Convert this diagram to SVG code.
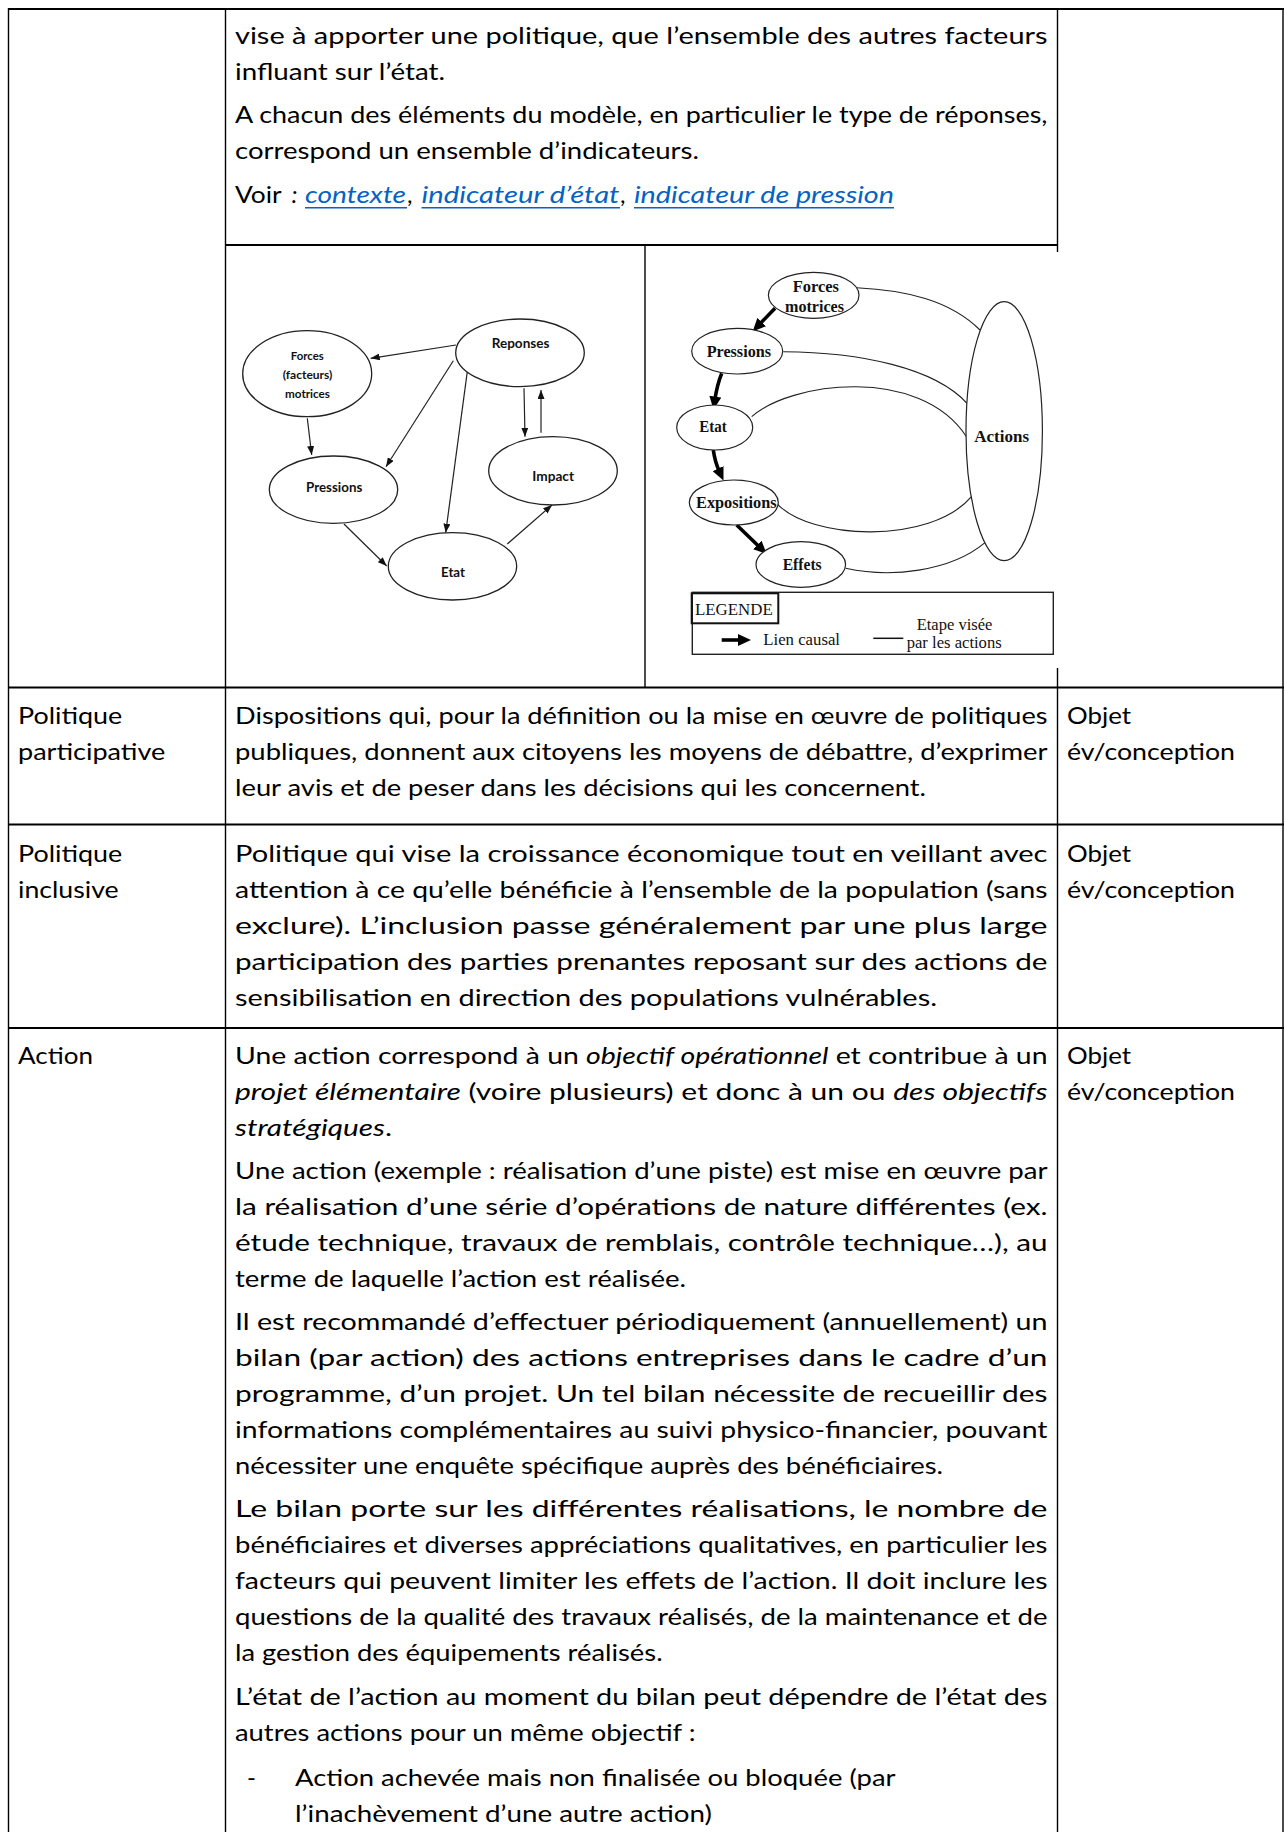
<svg xmlns="http://www.w3.org/2000/svg" width="1285" height="1832" viewBox="0 0 1285 1832">
<defs>
<style>
.t{font-family:Lato,"Open Sans",sans-serif;font-size:24px;fill:#000}
.i{font-style:italic}
.lnk{fill:#0563C1;font-style:italic}
.ul{stroke:#0563C1;stroke-width:1.6}
.h{stroke:#000;stroke-width:2}
.v{stroke:#000;stroke-width:1.4}
.n1{fill:#fff;stroke:#222;stroke-width:1.3}
.l1{font-family:Lato,"Open Sans",sans-serif;font-weight:bold;fill:#111}
.e1{fill:none;stroke:#222;stroke-width:1.2;marker-end:url(#ah1)}
.n2{fill:#fff;stroke:#222;stroke-width:1.2}
.l2{font-family:"Liberation Serif","Times New Roman",serif;font-weight:bold;font-size:16px;fill:#111}
.lg{font-family:"Liberation Serif","Times New Roman",serif;font-size:16px;fill:#111}
.c2{fill:none;stroke:#222;stroke-width:1.1}
.a2{fill:none;stroke:#000;stroke-width:3.6;marker-end:url(#ah2)}
</style>
<marker id="ah1" markerUnits="userSpaceOnUse" markerWidth="9" markerHeight="7" refX="9" refY="3.5" orient="auto"><path d="M0,0 L9,3.5 L0,7 z" fill="#111"/></marker>
<marker id="ah2" markerUnits="userSpaceOnUse" markerWidth="13" markerHeight="12" refX="3" refY="6" orient="auto"><path d="M0,0 L13,6 L0,12 z" fill="#000"/></marker>
</defs>
<rect width="1285" height="1832" fill="#fff"/>

<g id="table-grid">
<line class="h" x1="8" y1="9" x2="1284" y2="9"/>
<line class="h" x1="225.5" y1="245" x2="1057.5" y2="245"/>
<line class="h" x1="8" y1="687.5" x2="1284" y2="687.5"/>
<line class="h" x1="8" y1="824.5" x2="1284" y2="824.5"/>
<line class="h" x1="8" y1="1028" x2="1284" y2="1028"/>
<line class="v" x1="8.5" y1="8" x2="8.5" y2="1832"/>
<line class="v" x1="225.5" y1="8" x2="225.5" y2="1832"/>
<line class="v" x1="645" y1="245" x2="645" y2="687.5"/>
<line class="v" x1="1057.5" y1="8" x2="1057.5" y2="252"/>
<line class="v" x1="1057.5" y1="668" x2="1057.5" y2="1832"/>
<line class="v" x1="1283" y1="8" x2="1283" y2="1832"/>
</g>

<g id="row-continuation">
<text class="t" x="235" y="44" textLength="812.5" lengthAdjust="spacingAndGlyphs">vise à apporter une politique, que l’ensemble des autres facteurs</text>
<text class="t" x="235" y="80" textLength="210" lengthAdjust="spacingAndGlyphs">influant sur l’état.</text>
<text class="t" x="235" y="123.3" textLength="812.5" lengthAdjust="spacingAndGlyphs">A chacun des éléments du modèle, en particulier le type de réponses,</text>
<text class="t" x="235" y="159.3" textLength="464" lengthAdjust="spacingAndGlyphs">correspond un ensemble d’indicateurs.</text>
<text class="t" x="235" y="202.7" textLength="46.7" lengthAdjust="spacingAndGlyphs">Voir</text>
<text class="t i" x="291.5" y="202.7">:</text>
<text class="t lnk" x="305" y="202.7" textLength="101" lengthAdjust="spacingAndGlyphs">contexte</text>
<text class="t" x="407" y="202.7">,</text>
<text class="t lnk" x="421.5" y="202.7" textLength="198" lengthAdjust="spacingAndGlyphs">indicateur d’état</text>
<text class="t" x="620" y="202.7">,</text>
<text class="t lnk" x="634" y="202.7" textLength="260" lengthAdjust="spacingAndGlyphs">indicateur de pression</text>
<line class="ul" x1="305" y1="207.8" x2="407" y2="207.8"/>
<line class="ul" x1="421.5" y1="207.8" x2="620" y2="207.8"/>
<line class="ul" x1="634" y1="207.8" x2="894" y2="207.8"/>
</g>

<g id="diagram-dpsir">
<g id="d1-connectors">
<path class="e1" d="M456,345 L370.7,358.3"/>
<path class="e1" d="M453.3,360.7 L386,466.7"/>
<path class="e1" d="M467.3,371.7 L445.7,532.7"/>
<path class="e1" d="M524,388.3 L525,436.7"/>
<path class="e1" d="M541,432.7 L541,390"/>
<path class="e1" d="M307.3,418.3 L311.7,455"/>
<path class="e1" d="M344,524 L386.7,566"/>
<path class="e1" d="M507.3,544 L552,505"/>
</g>
<g id="d1-forces"><ellipse class="n1" cx="307.2" cy="373.7" rx="64.5" ry="43"/>
<text class="l1" x="290.8" y="360" font-size="12" textLength="33" lengthAdjust="spacingAndGlyphs">Forces</text>
<text class="l1" x="282.7" y="379" font-size="12" textLength="49.7" lengthAdjust="spacingAndGlyphs">(facteurs)</text>
<text class="l1" x="285" y="398" font-size="12" textLength="45" lengthAdjust="spacingAndGlyphs">motrices</text></g>
<g id="d1-reponses"><ellipse class="n1" cx="520" cy="352.8" rx="64.3" ry="33.8"/>
<text class="l1" x="491.7" y="348.3" font-size="14" textLength="57.7" lengthAdjust="spacingAndGlyphs">Reponses</text></g>
<g id="d1-pressions"><ellipse class="n1" cx="333.5" cy="489.7" rx="64.2" ry="33.7"/>
<text class="l1" x="306" y="492.3" font-size="14" textLength="56.3" lengthAdjust="spacingAndGlyphs">Pressions</text></g>
<g id="d1-impact"><ellipse class="n1" cx="553" cy="470.8" rx="64.3" ry="34.2"/>
<text class="l1" x="532.3" y="480.7" font-size="14" textLength="41.7" lengthAdjust="spacingAndGlyphs">Impact</text></g>
<g id="d1-etat"><ellipse class="n1" cx="452.5" cy="566.3" rx="64.2" ry="33.7"/>
<text class="l1" x="441" y="576.7" font-size="14" textLength="24" lengthAdjust="spacingAndGlyphs">Etat</text></g>
</g>

<g id="diagram-actions">
<g id="d2-connectors">
<path class="c2" d="M856.7,287.7 C905,290 950,300 980,330"/>
<path class="c2" d="M783.3,351.7 C860,352 935,368 967,403.3"/>
<path class="c2" d="M751.7,416.7 C790,382 920,365 966.5,436.7"/>
<path class="c2" d="M776.7,503.3 C810,540 930,545 971.5,496.7"/>
<path class="c2" d="M845.7,568.3 C890,578 950,572 985,542.7"/>
<path class="a2" d="M775,308.3 L759.6,324.2"/>
<path class="a2" d="M721.7,373.3 Q717,385 714.9,399.6"/>
<path class="a2" d="M713.3,450 Q715,462 719.3,471.3"/>
<path class="a2" d="M736.7,525 L759.5,547"/>
</g>
<g id="d2-forces"><ellipse class="n2" cx="813.7" cy="295.3" rx="45.3" ry="23"/>
<text class="l2" x="792.7" y="291.7" textLength="46.3" lengthAdjust="spacingAndGlyphs">Forces</text>
<text class="l2" x="785" y="311.7" textLength="59" lengthAdjust="spacingAndGlyphs">motrices</text></g>
<g id="d2-pressions"><ellipse class="n2" cx="737.2" cy="351.2" rx="45.5" ry="22.8"/>
<text class="l2" x="706.7" y="356.7" textLength="64.3" lengthAdjust="spacingAndGlyphs">Pressions</text></g>
<g id="d2-etat"><ellipse class="n2" cx="714.7" cy="427.5" rx="38" ry="22.5"/>
<text class="l2" x="699.3" y="431.7" textLength="27.4" lengthAdjust="spacingAndGlyphs">Etat</text></g>
<g id="d2-expositions"><ellipse class="n2" cx="733.8" cy="502.5" rx="44.5" ry="22.5"/>
<text class="l2" x="696" y="508.3" textLength="80.7" lengthAdjust="spacingAndGlyphs">Expositions</text></g>
<g id="d2-effets"><ellipse class="n2" cx="800.8" cy="564.5" rx="44.8" ry="22.8"/>
<text class="l2" x="782.7" y="570" textLength="39" lengthAdjust="spacingAndGlyphs">Effets</text></g>
<g id="d2-actions"><ellipse class="n2" cx="1004.2" cy="431.2" rx="38.2" ry="129.5" fill="none"/>
<text class="l2" x="974.3" y="441.7" font-size="17" textLength="54.7" lengthAdjust="spacingAndGlyphs">Actions</text></g>
<g id="d2-legend">
<rect x="692.3" y="592.3" width="361" height="62" fill="none" stroke="#222" stroke-width="1.4"/>
<rect x="691.7" y="593.3" width="86.6" height="30" fill="none" stroke="#111" stroke-width="2"/>
<text class="lg" x="695" y="615" textLength="77.7" lengthAdjust="spacingAndGlyphs">LEGENDE</text>
<path class="a2" d="M721.7,640 L741,640"/>
<text class="lg" x="763.3" y="645" textLength="76.7" lengthAdjust="spacingAndGlyphs">Lien causal</text>
<line x1="873.3" y1="638.3" x2="903.3" y2="638.3" stroke="#111" stroke-width="1.5"/>
<text class="lg" x="916.7" y="630" textLength="75.6" lengthAdjust="spacingAndGlyphs">Etape visée</text>
<text class="lg" x="906.7" y="648.3" textLength="95" lengthAdjust="spacingAndGlyphs">par les actions</text>
</g>
</g>

<g id="row-participative">
<text class="t" x="18" y="724.3" textLength="104.3" lengthAdjust="spacingAndGlyphs">Politique</text>
<text class="t" x="18" y="760.3" textLength="147.3" lengthAdjust="spacingAndGlyphs">participative</text>
<text class="t" x="235" y="724.3" textLength="812.5" lengthAdjust="spacingAndGlyphs">Dispositions qui, pour la définition ou la mise en œuvre de politiques</text>
<text class="t" x="235" y="760.3" textLength="812.5" lengthAdjust="spacingAndGlyphs">publiques, donnent aux citoyens les moyens de débattre, d’exprimer</text>
<text class="t" x="235" y="796.3" textLength="691" lengthAdjust="spacingAndGlyphs">leur avis et de peser dans les décisions qui les concernent.</text>
<text class="t" x="1067" y="724.3" textLength="64" lengthAdjust="spacingAndGlyphs">Objet</text>
<text class="t" x="1067" y="760.3" textLength="168" lengthAdjust="spacingAndGlyphs">év/conception</text>
</g>

<g id="row-inclusive">
<text class="t" x="18" y="861.7" textLength="104.3" lengthAdjust="spacingAndGlyphs">Politique</text>
<text class="t" x="18" y="897.7" textLength="100.7" lengthAdjust="spacingAndGlyphs">inclusive</text>
<text class="t" x="235" y="861.7" textLength="812.5" lengthAdjust="spacingAndGlyphs">Politique qui vise la croissance économique tout en veillant avec</text>
<text class="t" x="235" y="897.7" textLength="812.5" lengthAdjust="spacingAndGlyphs">attention à ce qu’elle bénéficie à l’ensemble de la population (sans</text>
<text class="t" x="235" y="933.7" textLength="812.5" lengthAdjust="spacingAndGlyphs">exclure). L’inclusion passe généralement par une plus large</text>
<text class="t" x="235" y="969.7" textLength="812.5" lengthAdjust="spacingAndGlyphs">participation des parties prenantes reposant sur des actions de</text>
<text class="t" x="235" y="1005.7" textLength="702" lengthAdjust="spacingAndGlyphs">sensibilisation en direction des populations vulnérables.</text>
<text class="t" x="1067" y="861.7" textLength="64" lengthAdjust="spacingAndGlyphs">Objet</text>
<text class="t" x="1067" y="897.7" textLength="168" lengthAdjust="spacingAndGlyphs">év/conception</text>
</g>

<g id="row-action">
<text class="t" x="18" y="1063.5" textLength="75" lengthAdjust="spacingAndGlyphs">Action</text>
<text class="t" x="1067" y="1063.5" textLength="64" lengthAdjust="spacingAndGlyphs">Objet</text>
<text class="t" x="1067" y="1099.5" textLength="168" lengthAdjust="spacingAndGlyphs">év/conception</text>
<text class="t" x="235" y="1063.5" textLength="812.5" lengthAdjust="spacingAndGlyphs">Une action correspond à un <tspan class="i">objectif opérationnel</tspan> et contribue à un</text>
<text class="t" x="235" y="1099.5" textLength="812.5" lengthAdjust="spacingAndGlyphs"><tspan class="i">projet élémentaire</tspan> (voire plusieurs) et donc à un ou <tspan class="i">des objectifs</tspan></text>
<text class="t" x="235" y="1135.5" textLength="157" lengthAdjust="spacingAndGlyphs"><tspan class="i">stratégiques</tspan>.</text>
<text class="t" x="235" y="1178.8" textLength="812.5" lengthAdjust="spacingAndGlyphs">Une action (exemple : réalisation d’une piste) est mise en œuvre par</text>
<text class="t" x="235" y="1214.8" textLength="812.5" lengthAdjust="spacingAndGlyphs">la réalisation d’une série d’opérations de nature différentes (ex.</text>
<text class="t" x="235" y="1250.8" textLength="812.5" lengthAdjust="spacingAndGlyphs">étude technique, travaux de remblais, contrôle technique…), au</text>
<text class="t" x="235" y="1286.8" textLength="451" lengthAdjust="spacingAndGlyphs">terme de laquelle l’action est réalisée.</text>
<text class="t" x="235" y="1330.1" textLength="812.5" lengthAdjust="spacingAndGlyphs">Il est recommandé d’effectuer périodiquement (annuellement) un</text>
<text class="t" x="235" y="1366.1" textLength="812.5" lengthAdjust="spacingAndGlyphs">bilan (par action) des actions entreprises dans le cadre d’un</text>
<text class="t" x="235" y="1402.1" textLength="812.5" lengthAdjust="spacingAndGlyphs">programme, d’un projet. Un tel bilan nécessite de recueillir des</text>
<text class="t" x="235" y="1438.1" textLength="812.5" lengthAdjust="spacingAndGlyphs">informations complémentaires au suivi physico-financier, pouvant</text>
<text class="t" x="235" y="1474.1" textLength="708" lengthAdjust="spacingAndGlyphs">nécessiter une enquête spécifique auprès des bénéficiaires.</text>
<text class="t" x="235" y="1517.4" textLength="812.5" lengthAdjust="spacingAndGlyphs">Le bilan porte sur les différentes réalisations, le nombre de</text>
<text class="t" x="235" y="1553.4" textLength="812.5" lengthAdjust="spacingAndGlyphs">bénéficiaires et diverses appréciations qualitatives, en particulier les</text>
<text class="t" x="235" y="1589.4" textLength="812.5" lengthAdjust="spacingAndGlyphs">facteurs qui peuvent limiter les effets de l’action. Il doit inclure les</text>
<text class="t" x="235" y="1625.4" textLength="812.5" lengthAdjust="spacingAndGlyphs">questions de la qualité des travaux réalisés, de la maintenance et de</text>
<text class="t" x="235" y="1661.4" textLength="427.6" lengthAdjust="spacingAndGlyphs">la gestion des équipements réalisés.</text>
<text class="t" x="235" y="1704.7" textLength="812.5" lengthAdjust="spacingAndGlyphs">L’état de l’action au moment du bilan peut dépendre de l’état des</text>
<text class="t" x="235" y="1740.7" textLength="460.5" lengthAdjust="spacingAndGlyphs">autres actions pour un même objectif :</text>
<text class="t" x="247" y="1786">-</text>
<text class="t" x="295" y="1786" textLength="600.5" lengthAdjust="spacingAndGlyphs">Action achevée mais non finalisée ou bloquée (par</text>
<text class="t" x="295" y="1822" textLength="417" lengthAdjust="spacingAndGlyphs">l’inachèvement d’une autre action)</text>
</g>
</svg>
